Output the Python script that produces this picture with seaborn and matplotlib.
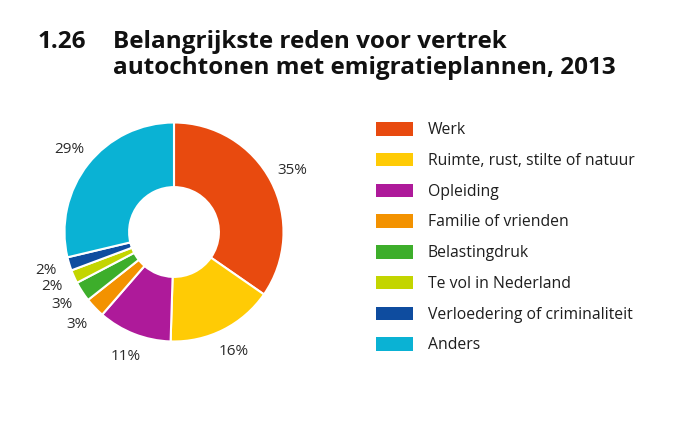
import numpy as np
import matplotlib
matplotlib.use("Agg")
import matplotlib.pyplot as plt
from matplotlib.patches import Patch
import seaborn as sns

# data
categories = ["Werk", "Ruimte, rust, stilte of natuur", "Opleiding", "Familie of vrienden",
              "Belastingdruk", "Te vol in Nederland", "Verloedering of criminaliteit", "Anders"]
shares = [35, 16, 11, 3, 3, 2, 2, 29]
colors = ["#E84A0F", "#FFCB05", "#AE1A9A", "#F39200", "#3DAE2B", "#C3D500", "#0E4C9F", "#0AB2D4"]
title_number = "1.26"
title_lines = ["Belangrijkste reden voor vertrek", "autochtonen met emigratieplannen, 2013"]

sns.set_theme(style="white")
plt.rcParams["font.family"] = ["Open Sans", "DejaVu Sans"]

W, H = 700, 438
fig = plt.figure(figsize=(7, 4.38), dpi=100)

# donut
cx, cy, r = 174, 232, 109.5
lim = 1.3
side = 2 * lim * r
ax = fig.add_axes([(cx - side / 2) / W, (H - cy - side / 2) / H, side / W, side / H])
wedges, _ = ax.pie(shares, colors=colors, startangle=90, counterclock=False,
                   wedgeprops=dict(width=0.59, edgecolor="white", linewidth=1.5))
ax.set_xlim(-lim, lim)
ax.set_ylim(-lim, lim)
ax.set_aspect("equal")
ax.axis("off")

for w, v in zip(wedges, shares):
    ang = np.deg2rad((w.theta1 + w.theta2) / 2)
    ax.text(1.22 * np.cos(ang), 1.22 * np.sin(ang), f"{v}%", ha="center", va="center",
            fontsize=11, color="#2b2b2b")

# legend
handles = [Patch(facecolor=c, edgecolor="none") for c in colors]
fig.legend(handles, categories, loc="upper left", bbox_to_anchor=(376 / W, 1 - 122 / H),
           frameon=False, fontsize=11.3, handlelength=2.35, handleheight=0.95,
           labelspacing=0.93, handletextpad=0.95, borderpad=0, borderaxespad=0,
           labelcolor="#1e1e1e")

# title
fig.text(38 / W, 1 - 48 / H, title_number, fontsize=17.5, fontweight="bold",
         color="#111111", va="baseline", ha="left")
for i, line in enumerate(title_lines):
    fig.text(113 / W, 1 - (48 + 26 * i) / H, line, fontsize=17.5, fontweight="bold",
             color="#111111", va="baseline", ha="left")

fig.savefig("out.png", dpi=100)
